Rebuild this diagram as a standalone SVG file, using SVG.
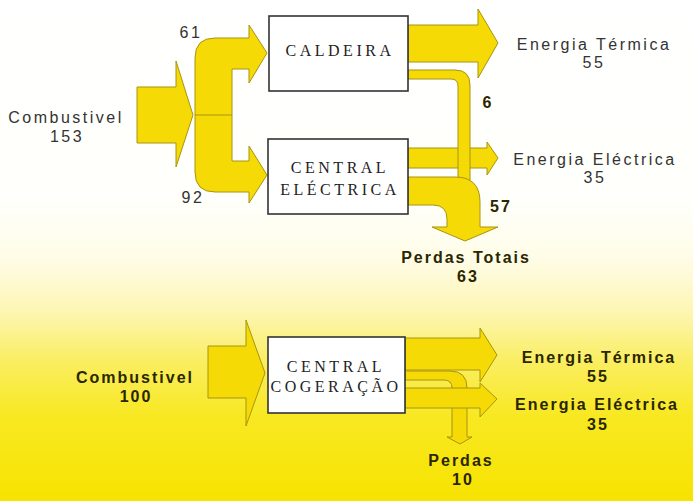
<svg xmlns="http://www.w3.org/2000/svg" width="693" height="501" viewBox="0 0 693 501">
  <defs>
    <linearGradient id="bg" x1="0" y1="0" x2="0" y2="1">
      <stop offset="0" stop-color="#ffffff"/>
      <stop offset="0.4" stop-color="#fffffb"/>
      <stop offset="0.52" stop-color="#fffce6"/>
      <stop offset="0.62" stop-color="#fdf6b4"/>
      <stop offset="0.72" stop-color="#faee62"/>
      <stop offset="0.83" stop-color="#f8e822"/>
      <stop offset="1" stop-color="#f7e300"/>
    </linearGradient>
    <style>
      .flow { fill: #f5da06; stroke: #a89410; stroke-width: 1; stroke-linejoin: miter; }
      .div { stroke: #a89410; stroke-width: 1; fill: none; }
      .box { fill: #ffffff; stroke: #333333; stroke-width: 1.6; }
      .bt { font-family: "Liberation Serif", "Times New Roman", serif; font-size: 16px; letter-spacing: 3.5px; fill: #222222; text-anchor: middle; }
      .t { font-family: "Liberation Sans", Arial, sans-serif; font-size: 16px; letter-spacing: 2.5px; fill: #333333; text-anchor: middle; }
      .tb { font-family: "Liberation Sans", Arial, sans-serif; font-size: 16px; font-weight: bold; letter-spacing: 2px; fill: #2a2600; text-anchor: middle; }
    </style>
  </defs>

  <rect x="0" y="0" width="693" height="501" fill="url(#bg)"/>

  <g id="connectors">
    <!-- top system -->
    <polygon id="in-153" class="flow" points="137,87 176,87 176,61 193,115 176,167 176,143 137,143"/>
    <path id="split" class="flow" d="M249,38 L215,38 Q195,38 195,58 L195,172 Q195,192 215,192 L249,192 L249,203 L267,175 L249,146 L249,161 L232,161 L232,69 L249,69 L249,83 L267,53 L249,25 Z"/>
    <line class="div" x1="195" y1="115" x2="232" y2="115"/>
    <polygon id="out-termica-55" class="flow" points="408,25 478,25 478,9 498,43 478,78 478,62 408,62"/>
    <polygon id="out-electrica-35" class="flow" points="408,148 487,148 487,142 498,158 487,175 487,168 408,168"/>
    <path id="loss-6" class="flow" d="M408,70 L455,70 Q470,70 470,85 L470,192 L458,192 L458,86 Q458,79 451,79 L408,79 Z"/>
    <path id="loss-57" class="flow" d="M408,177 L455,177 Q480,177 480,202 L480,227 L498,227 L465,241 L432,227 L447,227 L447,219 Q447,205 433,205 L408,205 Z"/>

    <!-- cogeneration system -->
    <polygon id="in-100" class="flow" points="208,346 246,346 246,320 265,373 246,426 246,398 208,398"/>
    <polygon id="cog-termica-55" class="flow" points="405,338 480,338 480,328 497,355 480,382 480,370 405,370"/>
    <path id="cog-perdas-10" class="flow" d="M405,371 L450,371 Q467,371 467,388 L467,437 L472,437 L460,444 L447,437 L452,437 L452,388 Q452,380 444,380 L405,380 Z"/>
    <polygon id="cog-electrica-35" class="flow" points="405,388 480,388 480,383 497,399 480,417 480,408 405,408"/>
  </g>

  <g id="labels-flows">
    <text class="t" x="191" y="38">61</text>
    <text class="t" x="193" y="203">92</text>
    <text class="tb" x="488" y="108">6</text>
    <text class="tb" x="501" y="212">57</text>
  </g>

  <g id="combustivel-153">
    <text class="t" x="66" y="123">Combustivel</text>
    <text class="t" x="67" y="142">153</text>
  </g>

  <g id="caldeira">
    <rect class="box" x="269" y="16" width="139" height="75"/>
    <text class="bt" x="340" y="56">CALDEIRA</text>
  </g>

  <g id="central-electrica">
    <rect class="box" x="268" y="139" width="140" height="75"/>
    <text class="bt" x="340" y="173">CENTRAL</text>
    <text class="bt" x="340" y="195">ELÉCTRICA</text>
  </g>

  <g id="energia-termica-55">
    <text class="t" x="594" y="50">Energia Térmica</text>
    <text class="t" x="594" y="68">55</text>
  </g>

  <g id="energia-electrica-35">
    <text class="t" x="595" y="165">Energia Eléctrica</text>
    <text class="t" x="595" y="183">35</text>
  </g>

  <g id="perdas-totais-63">
    <text class="tb" x="466" y="263">Perdas Totais</text>
    <text class="tb" x="468" y="282">63</text>
  </g>

  <g id="combustivel-100">
    <text class="tb" x="135" y="383">Combustivel</text>
    <text class="tb" x="136" y="402">100</text>
  </g>

  <g id="central-cogeracao">
    <rect class="box" x="268" y="337" width="137" height="76"/>
    <text class="bt" x="336" y="372">CENTRAL</text>
    <text class="bt" x="336" y="392">COGERAÇÃO</text>
  </g>

  <g id="cog-energia-termica-55">
    <text class="tb" x="599" y="363">Energia Térmica</text>
    <text class="tb" x="598" y="382">55</text>
  </g>

  <g id="cog-energia-electrica-35">
    <text class="tb" x="597" y="410">Energia Eléctrica</text>
    <text class="tb" x="598" y="430">35</text>
  </g>

  <g id="cog-perdas-10-label">
    <text class="tb" x="461" y="466">Perdas</text>
    <text class="tb" x="463" y="485">10</text>
  </g>
</svg>
